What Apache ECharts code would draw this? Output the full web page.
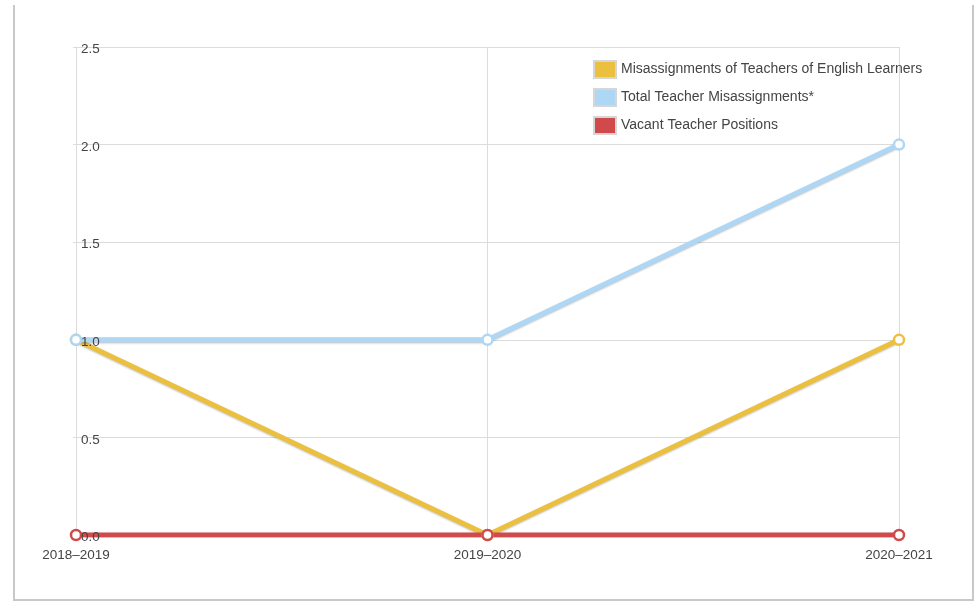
<!DOCTYPE html>
<html>
<head>
<meta charset="utf-8">
<script src="https://cdn.jsdelivr.net/npm/echarts@6/dist/echarts.min.js"></script>
<style>
  html, body { margin: 0; padding: 0; background: #fff; }
  #wrap { position: relative; width: 976px; height: 603px; overflow: hidden; }
  #frame {
    position: absolute; left: 13px; top: 5px; width: 957px; height: 594px;
    border-left: 2px solid #c8c8c8; border-right: 2px solid #c8c8c8; border-bottom: 2px solid #c8c8c8;
    box-sizing: content-box;
  }
  #chart { position: absolute; left: 0; top: 0; width: 976px; height: 603px; }
</style>
</head>
<body>
<div id="wrap">
  <div id="frame"></div>
  <div id="chart"></div>
</div>
<script>
// School years on the x axis
const years = ['2018–2019', '2019–2020', '2020–2021'];

// Counts per school year
const elMisassignments = [1, 0, 1];
const totalMisassignments = [1, 1, 2];
const vacantPositions = [0, 0, 0];

// Value axis range and step
const yMin = 0;
const yMax = 2.5;
const yStep = 0.5;

const seriesNames = [
  'Misassignments of Teachers of English Learners',
  'Total Teacher Misassignments*',
  'Vacant Teacher Positions'
];
const seriesColors = ['#ecc03f', '#aed6f5', '#d04a4b'];

const font = "'Liberation Sans', Arial, Helvetica, sans-serif";
const gridColor = '#dcdcdc';

function lineSeries(name, data, color) {
  return {
    name: name,
    type: 'line',
    data: data,
    yAxisIndex: 0,
    symbol: 'circle',
    symbolSize: 10,
    showSymbol: true,
    lineStyle: {
      color: color, width: 5,
      shadowColor: 'rgba(0,0,0,0.25)', shadowBlur: 2, shadowOffsetY: 1
    },
    itemStyle: { color: '#fff', borderColor: color, borderWidth: 2.5 },
    emphasis: { disabled: true }
  };
}

const chart = echarts.init(document.getElementById('chart'), null, { renderer: 'canvas' });
chart.setOption({
  animation: false,
  textStyle: { fontFamily: font },
  grid: { left: 76, right: 77, top: 47, bottom: 68, containLabel: false },
  legend: {
    orient: 'vertical',
    left: 593,
    top: 60,
    padding: 0,
    itemWidth: 22,
    itemHeight: 17,
    itemGap: 9,
    icon: 'rect',
    textStyle: { color: '#444', fontSize: 14, lineHeight: 17, fontFamily: font },
    itemStyle: { borderColor: '#d6d6d6', borderWidth: 2 },
    data: seriesNames.map((n, i) => ({ name: n, itemStyle: { color: seriesColors[i] } }))
  },
  xAxis: {
    type: 'category',
    data: years,
    boundaryGap: false,
    axisLine: { show: false },
    axisTick: { show: false },
    axisLabel: { color: '#444', fontSize: 13.5, margin: 13, fontFamily: font },
    splitLine: { show: true, lineStyle: { color: gridColor, width: 1 } }
  },
  yAxis: [
    {
      // gridlines, axis line and ticks sit beneath the lines
      type: 'value',
      min: yMin, max: yMax, interval: yStep,
      position: 'left',
      axisLine: { show: true, lineStyle: { color: gridColor } },
      axisTick: { show: true, length: 3, lineStyle: { color: gridColor } },
      axisLabel: { show: false },
      splitLine: { show: true, lineStyle: { color: gridColor, width: 1 } }
    },
    {
      // tick labels drawn above the lines, nudged just below their gridline
      type: 'value',
      min: yMin, max: yMax, interval: yStep,
      position: 'left',
      offset: 0,
      z: 10,
      axisLine: { show: false },
      axisTick: { show: false },
      splitLine: { show: false },
      axisLabel: {
        inside: true, margin: 5, color: '#444', fontSize: 13.5, fontFamily: font,
        formatter: v => '{t|' + v.toFixed(1) + '}',
        rich: {
          t: { color: '#444', fontSize: 13.5, fontFamily: font, padding: [5, 0, 0, 0] }
        }
      }
    }
  ],
  series: [
    lineSeries(seriesNames[0], elMisassignments, seriesColors[0]),
    lineSeries(seriesNames[1], totalMisassignments, seriesColors[1]),
    lineSeries(seriesNames[2], vacantPositions, seriesColors[2])
  ]
});
</script>
</body>
</html>
